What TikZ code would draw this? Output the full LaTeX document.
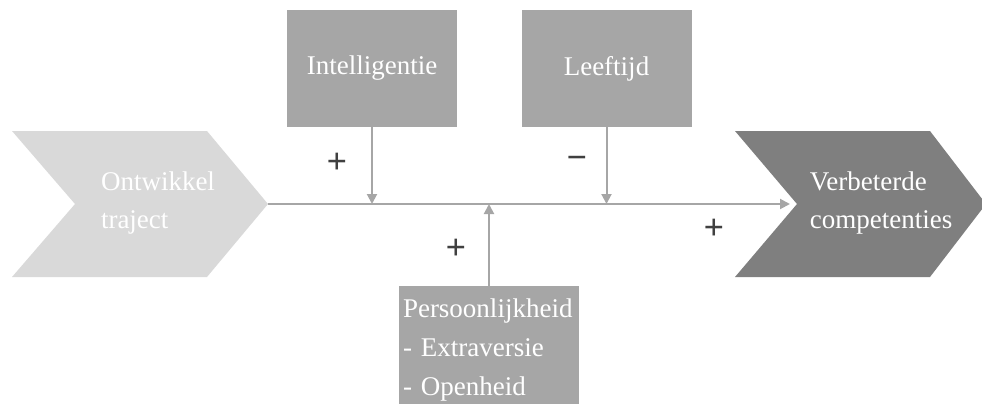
\documentclass[tikz,border=0pt]{standalone}
\usepackage{fontspec}
\setmainfont{Liberation Serif}
\usetikzlibrary{arrows.meta,positioning}
\definecolor{lightgr}{HTML}{D9D9D9}
\definecolor{midgr}{HTML}{A6A6A6}
\definecolor{darkgr}{HTML}{7F7F7F}
\definecolor{signgr}{HTML}{404040}

\begin{document}
\begin{tikzpicture}[
    x=0.5pt, y=-0.5pt,
    every node/.style={font=\fontsize{13.5}{19.5}\selectfont},
    factor/.style={fill=midgr, text=white, align=center, minimum width=85pt, minimum height=58.5pt, inner sep=0pt},
    trait/.style={fill=midgr, text=white, align=left, text width=86pt, inner xsep=2pt, inner ysep=6pt},
    chevtext/.style={text=white, align=left, inner sep=0pt},
    sign/.style={text=signgr, font=\fontsize{18}{18}\selectfont\bfseries, inner sep=0pt},
    flow/.style={-{Triangle[length=5pt, width=5pt]}, draw=midgr, fill=midgr, line width=1pt}
]
\useasboundingbox (0,0) rectangle (982,403);
% chevrons
\fill[lightgr] (12,131) -- (207,131) -- (268,204) -- (207,277) -- (12,277) -- (75,204) -- cycle;
\fill[darkgr] (735,131) -- (930,131) -- (986,204) -- (930,277) -- (735,277) -- (797,204) -- cycle;
\coordinate (trajtip) at (268,204);
\coordinate (compnotch) at (797,204);
\node[chevtext] (traj) at (158,203) {Ontwikkel\\traject};
\node[chevtext] (comp) at (881,203) {Verbeterde\\competenties};
% factors
\node[factor] (intel) at (372,68.5) {Intelligentie};
\node[factor] (leef) at (606.5,68.5) {Leeftijd};
\node[trait, anchor=north] (pers) at (489,286) {Persoonlijkheid\\- Extraversie\\- Openheid};
% connectors
\draw[flow, shorten >=3.5pt] (trajtip) -- (compnotch);
\draw[flow] (intel.south) -- (intel.south |- trajtip);
\draw[flow] (leef.south) -- (leef.south |- trajtip);
\draw[flow] (pers.north) -- (pers.north |- trajtip);
% signs
\node[sign] (plusintel) at (337,163) {+};
\node[sign] (minleef) at (577,163) {−};
\node[sign] (pluspers) at (456,249) {+};
\node[sign] (pluscomp) at (714,229) {+};
\end{tikzpicture}
\end{document}
